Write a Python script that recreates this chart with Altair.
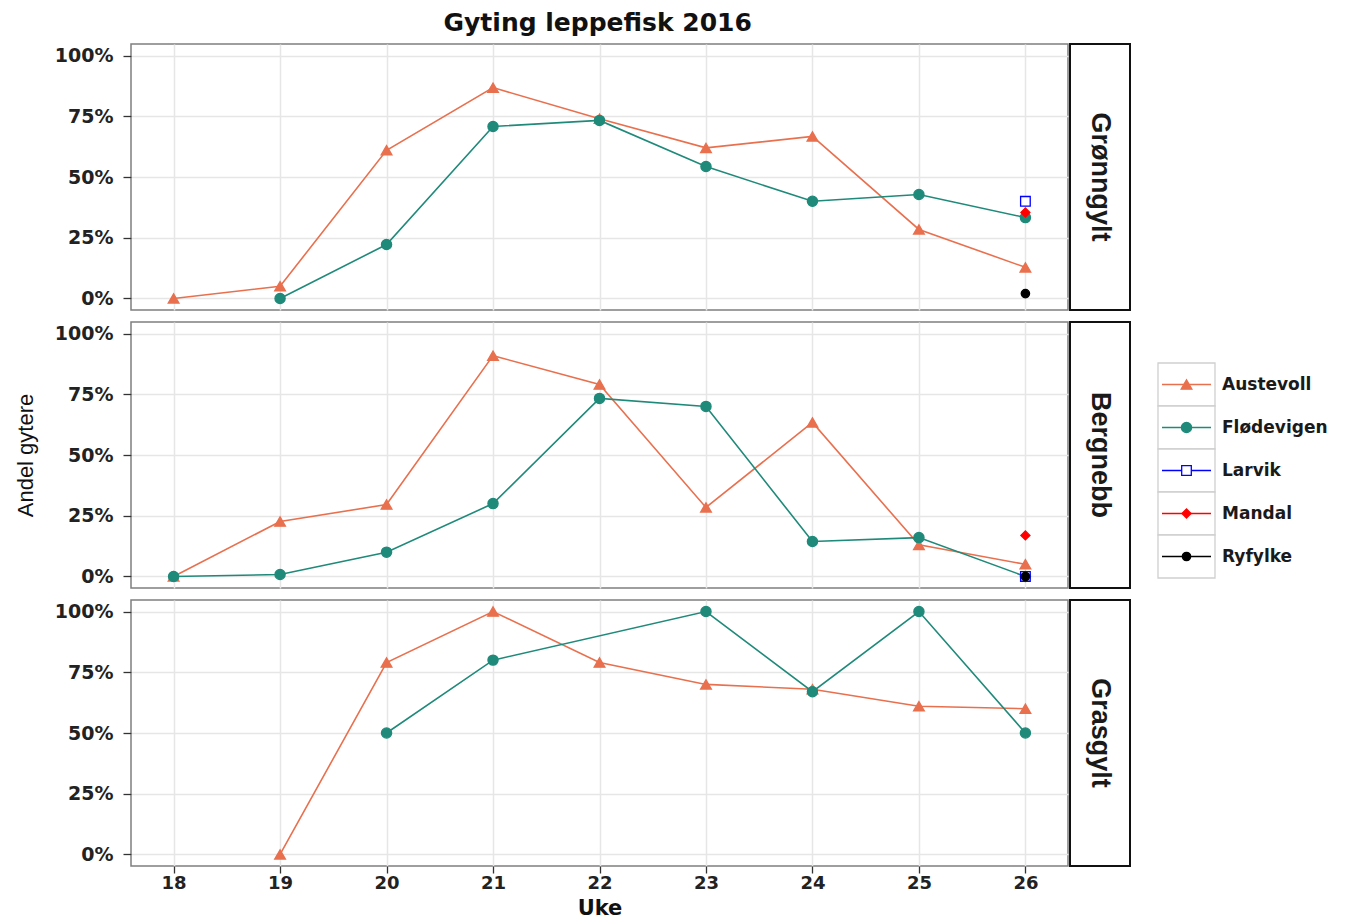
import altair as alt
import pandas as pd

# ---------------- data ----------------
weeks = [18, 19, 20, 21, 22, 23, 24, 25, 26]
species = ["Grønngylt", "Bergnebb", "Grasgylt"]
stations = ["Austevoll", "Flødevigen", "Larvik", "Mandal", "Ryfylke"]

station_colors = ["#E9704E", "#1F8A7A", "#0000FF", "#FF0000", "#000000"]
station_fills = ["#E9704E", "#1F8A7A", "#FFFFFF", "#FF0000", "#000000"]
station_shapes = ["triangle-up", "circle", "square", "diamond", "circle"]
station_sizes = [115, 70, 36, 75, 65]

# Grønngylt
gronn_austevoll = [0.0, 0.05, 0.61, 0.868, 0.74, 0.62, 0.667, 0.284, 0.128]
gronn_flodevigen = [None, 0.0, 0.222, 0.708, 0.733, 0.543, 0.40, 0.428, 0.333]
gronn_larvik = [None, None, None, None, None, None, None, None, 0.40]
gronn_mandal = [None, None, None, None, None, None, None, None, 0.354]
gronn_ryfylke = [None, None, None, None, None, None, None, None, 0.02]

# Bergnebb
berg_austevoll = [0.0, 0.226, 0.296, 0.909, 0.79, 0.284, 0.634, 0.13, 0.05]
berg_flodevigen = [0.0, 0.008, 0.10, 0.30, 0.733, 0.70, 0.144, 0.16, 0.0]
berg_larvik = [None, None, None, None, None, None, None, None, 0.0]
berg_mandal = [None, None, None, None, None, None, None, None, 0.169]
berg_ryfylke = [None, None, None, None, None, None, None, None, 0.0]

# Grasgylt
gras_austevoll = [None, 0.0, 0.79, 1.0, 0.79, 0.70, 0.68, 0.61, 0.60]
gras_flodevigen = [None, None, 0.5, 0.80, None, 1.0, 0.67, 1.0, 0.5]

y_ticks = [0, 0.25, 0.5, 0.75, 1.0]

series = {
    "Grønngylt": [gronn_austevoll, gronn_flodevigen, gronn_larvik, gronn_mandal, gronn_ryfylke],
    "Bergnebb": [berg_austevoll, berg_flodevigen, berg_larvik, berg_mandal, berg_ryfylke],
    "Grasgylt": [gras_austevoll, gras_flodevigen, [None] * 9, [None] * 9, [None] * 9],
}

rows = []
for sp in species:
    for st, vals in zip(stations, series[sp]):
        for w, v in zip(weeks, vals):
            if v is not None:
                rows.append({"species": sp, "station": st, "week": w, "value": v})
df = pd.DataFrame(rows)

# ---------------- styling ----------------
HFONT = "DejaVu Sans"
VFONT = "Liberation Sans"
PANEL_W = 937
PANEL_H = 266
STRIP_W = 60
ROW_GAP = 10

color_scale = alt.Scale(domain=stations, range=station_colors)
fill_scale = alt.Scale(domain=stations, range=station_fills)
shape_scale = alt.Scale(domain=stations, range=station_shapes)
size_scale = alt.Scale(domain=stations, range=station_sizes)


def panel(sp, bottom, ytitle):
    sub = df[df["species"] == sp]
    if bottom:
        xaxis = alt.Axis(values=weeks, format="d", grid=True, gridColor="#e6e6e6", gridWidth=1.5,
                         domain=False, ticks=True, tickSize=7, tickWidth=1.3, tickColor="#333333",
                         labelFont=HFONT, labelFontWeight="bold", labelFontSize=18,
                         labelColor="#222222", labelPadding=1,
                         title="Uke", titleFont=HFONT, titleFontWeight="bold",
                         titleFontSize=21, titleColor="#111111", titlePadding=5)
    else:
        xaxis = alt.Axis(values=weeks, grid=True, gridColor="#e6e6e6", gridWidth=1.5,
                         domain=False, ticks=False, labels=False, title=None)
    yaxis_kw = dict(values=y_ticks, format=".0%", grid=True, gridColor="#e6e6e6", gridWidth=1.5,
                    domain=False, tickSize=8, tickWidth=1.3, tickColor="#333333",
                    labelFont=HFONT, labelFontWeight="bold", labelFontSize=19,
                    labelColor="#222222", labelPadding=10)
    if ytitle:
        yaxis = alt.Axis(title="Andel gytere", titleFont=VFONT, titleFontWeight="normal",
                         titleFontSize=22, titleColor="#111111", titlePadding=17, **yaxis_kw)
    else:
        yaxis = alt.Axis(title=None, **yaxis_kw)

    x = alt.X("week:Q", scale=alt.Scale(domain=[17.6, 26.4], nice=False, zero=False), axis=xaxis)
    y = alt.Y("value:Q", scale=alt.Scale(domain=[-0.0475, 1.0475], nice=False, zero=False), axis=yaxis)

    base = alt.Chart(sub)
    lines = base.mark_line(strokeWidth=1.6).encode(
        x=x, y=y,
        color=alt.Color("station:N", scale=color_scale, legend=None),
        detail="station:N",
    )
    points = base.mark_point(filled=False, opacity=1, fillOpacity=1, strokeWidth=1.3).encode(
        x=x, y=y,
        shape=alt.Shape("station:N", scale=shape_scale, legend=None),
        fill=alt.Fill("station:N", scale=fill_scale, legend=None),
        stroke=alt.Stroke("station:N", scale=color_scale, legend=None),
        size=alt.Size("station:N", scale=size_scale, legend=None),
    )
    return alt.layer(lines, points).properties(
        width=PANEL_W, height=PANEL_H,
        view=alt.ViewBackground(stroke="#7f7f7f", strokeWidth=1.5, fill="white"),
    )


def strip(sp):
    return alt.Chart(pd.DataFrame({"label": [sp]})).mark_text(
        angle=90, font=VFONT, fontWeight="bold", fontSize=27, color="#1a1a1a",
        align="center", baseline="middle",
    ).encode(
        text="label:N", x=alt.value(STRIP_W / 2), y=alt.value(PANEL_H / 2)
    ).properties(
        width=STRIP_W, height=PANEL_H,
        view=alt.ViewBackground(stroke="#111111", strokeWidth=2, fill="white"),
    )


panels = alt.vconcat(panel(species[0], False, False),
                     panel(species[1], False, True),
                     panel(species[2], True, False), spacing=ROW_GAP)
strips = alt.vconcat(strip(species[0]), strip(species[1]), strip(species[2]), spacing=ROW_GAP)

# ---------------- legend ----------------
leg = pd.DataFrame({
    "station": stations,
    "idx": list(range(len(stations))),
})
leg["lo"] = leg["idx"] - 0.5
leg["hi"] = leg["idx"] + 0.5
LEG_H = PANEL_H * 3 + 2 * ROW_GAP + 4
yscale = alt.Scale(domain=[-7.919, -7.919 + LEG_H / 43.0], reverse=True, nice=False, zero=False)
OFF = 27
lbase = alt.Chart(leg)
lrect = lbase.mark_rect(fill="white", stroke="#cfcfcf", strokeWidth=1.3).encode(
    x=alt.value(OFF), x2=alt.value(OFF + 57),
    y=alt.Y("lo:Q", scale=yscale, axis=None), y2="hi:Q",
)
lrule = lbase.mark_rule(strokeWidth=1.6).encode(
    x=alt.value(OFF + 4), x2=alt.value(OFF + 53),
    y=alt.Y("idx:Q", scale=yscale, axis=None),
    color=alt.Color("station:N", scale=color_scale, legend=None),
)
lpts = lbase.mark_point(filled=False, opacity=1, fillOpacity=1, strokeWidth=1.3).encode(
    x=alt.value(OFF + 28.5),
    y=alt.Y("idx:Q", scale=yscale, axis=None),
    shape=alt.Shape("station:N", scale=shape_scale, legend=None),
    fill=alt.Fill("station:N", scale=fill_scale, legend=None),
    stroke=alt.Stroke("station:N", scale=color_scale, legend=None),
    size=alt.Size("station:N", scale=size_scale, legend=None),
)
ltext = lbase.mark_text(align="left", baseline="middle", font=HFONT, fontWeight="bold",
                        fontSize=17, color="#1a1a1a").encode(
    x=alt.value(OFF + 64),
    y=alt.Y("idx:Q", scale=yscale, axis=None),
    text="station:N",
)
legend = alt.layer(lrect, lrule, lpts, ltext).properties(
    width=185, height=LEG_H,
    view=alt.ViewBackground(strokeOpacity=0, fill="white"),
)

chart = alt.hconcat(panels, strips, legend, spacing=0).properties(
    title=alt.TitleParams("Gyting leppefisk 2016", font=HFONT, fontWeight="bold", fontSize=25,
                          color="#111111", anchor="start", dx=430, offset=7),
    padding={"left": 5, "top": 3, "right": 0, "bottom": 0},
).configure_view(stroke=None)

chart.save("out.html", embed_options={"renderer": "svg", "actions": False})
